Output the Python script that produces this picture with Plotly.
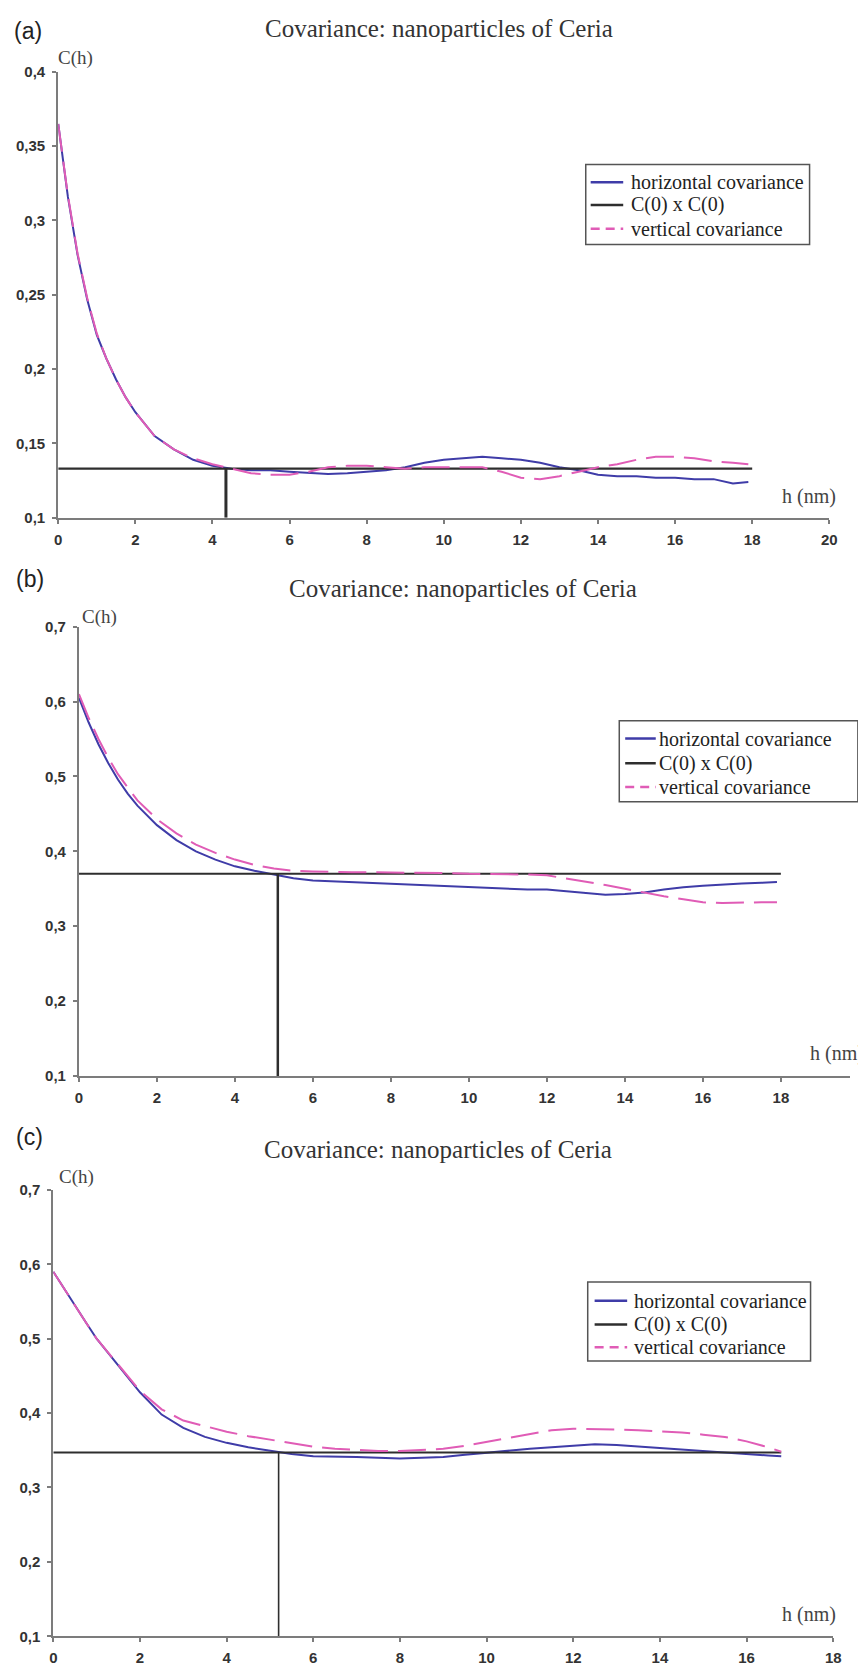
import plotly.graph_objects as go

W, H = 858, 1673

# ---------------- data ----------------
series_names = ["horizontal covariance", "C(0) x C(0)", "vertical covariance"]
panel_tags = ["(a)", "(b)", "(c)"]
panel_title = "Covariance: nanoparticles of Ceria"
y_title = "C(h)"
x_title = "h (nm)"

# panel (a)
h_a = [0, 0.25, 0.5, 0.75, 1, 1.25, 1.5, 1.75, 2, 2.5, 3, 3.5, 4, 4.5, 5, 5.5, 6, 6.5, 7, 7.5,
       8, 8.5, 9, 9.5, 10, 10.5, 11, 11.5, 12, 12.5, 13, 13.5, 14, 14.5, 15, 15.5, 16, 16.5, 17, 17.5, 17.9]
horiz_a = [0.365, 0.316, 0.277, 0.247, 0.223, 0.207, 0.193, 0.181, 0.171, 0.155, 0.146, 0.139, 0.135,
           0.133, 0.132, 0.132, 0.131, 0.130, 0.1295, 0.130, 0.131, 0.132, 0.134, 0.137, 0.139, 0.140,
           0.141, 0.140, 0.139, 0.137, 0.134, 0.132, 0.129, 0.128, 0.128, 0.127, 0.127, 0.126, 0.126,
           0.123, 0.124]
vert_a = [0.365, 0.317, 0.278, 0.248, 0.224, 0.207, 0.193, 0.181, 0.171, 0.155, 0.146, 0.140, 0.136,
          0.133, 0.130, 0.129, 0.129, 0.131, 0.134, 0.135, 0.135, 0.134, 0.133, 0.134, 0.134, 0.134,
          0.134, 0.131, 0.127, 0.126, 0.128, 0.131, 0.134, 0.136, 0.139, 0.141, 0.141, 0.140, 0.138,
          0.137, 0.136]
c0_a, hcross_a, hend_a = 0.133, 4.35, 18

# panel (b)
h_b = [0, 0.25, 0.5, 0.75, 1, 1.25, 1.5, 2, 2.5, 3, 3.5, 4, 4.5, 5, 5.5, 6, 6.5, 7, 7.5, 8,
       8.5, 9, 9.5, 10, 10.5, 11, 11.5, 12, 12.5, 13, 13.5, 14, 14.5, 15, 15.5, 16, 16.5, 17, 17.5, 17.9]
horiz_b = [0.605, 0.572, 0.543, 0.518, 0.496, 0.477, 0.461, 0.435, 0.415, 0.400, 0.389, 0.380, 0.374,
           0.369, 0.364, 0.361, 0.360, 0.359, 0.358, 0.357, 0.356, 0.355, 0.353, 0.352, 0.351, 0.350,
           0.349, 0.349, 0.347, 0.345, 0.342, 0.343, 0.345, 0.349, 0.352, 0.354, 0.356, 0.357, 0.358,
           0.359]
vert_b = [0.610, 0.578, 0.550, 0.525, 0.503, 0.485, 0.468, 0.443, 0.424, 0.409, 0.398, 0.389, 0.382,
          0.377, 0.374, 0.373, 0.372, 0.372, 0.372, 0.372, 0.372, 0.371, 0.371, 0.370, 0.370, 0.370,
          0.369, 0.368, 0.364, 0.360, 0.355, 0.350, 0.345, 0.340, 0.336, 0.332, 0.331, 0.332, 0.332,
          0.332]
c0_b, hcross_b, hend_b = 0.370, 5.1, 18

# panel (c)
h_c = [0, 0.25, 0.5, 0.75, 1, 1.25, 1.5, 2, 2.5, 3, 3.5, 4, 4.5, 5, 5.5, 6, 6.5, 7, 7.5, 8,
       8.5, 9, 9.5, 10, 10.5, 11, 11.5, 12, 12.5, 13, 13.5, 14, 14.5, 15, 15.5, 16, 16.5, 16.8]
horiz_c = [0.590, 0.567, 0.545, 0.522, 0.500, 0.482, 0.465, 0.428, 0.398, 0.380, 0.368, 0.360, 0.354,
           0.349, 0.345, 0.342, 0.341, 0.341, 0.340, 0.339, 0.340, 0.341, 0.344, 0.347, 0.350, 0.352,
           0.354, 0.356, 0.358, 0.357, 0.355, 0.352, 0.350, 0.348, 0.347, 0.345, 0.343, 0.342]
vert_c = [0.590, 0.567, 0.545, 0.522, 0.500, 0.482, 0.465, 0.430, 0.405, 0.390, 0.382, 0.375, 0.369,
          0.364, 0.359, 0.355, 0.352, 0.350, 0.349, 0.349, 0.350, 0.352, 0.356, 0.361, 0.367, 0.372,
          0.377, 0.379, 0.379, 0.378, 0.377, 0.376, 0.374, 0.371, 0.368, 0.362, 0.354, 0.348]
c0_c, hcross_c, hend_c = 0.347, 5.2, 16.8

yticks_a = [0.1, 0.15, 0.2, 0.25, 0.3, 0.35, 0.4]
yticktext_a = ["0,1", "0,15", "0,2", "0,25", "0,3", "0,35", "0,4"]
yticks_bc = [0.1, 0.2, 0.3, 0.4, 0.5, 0.6, 0.7]
yticktext_bc = ["0,1", "0,2", "0,3", "0,4", "0,5", "0,6", "0,7"]
xticks = [0, 2, 4, 6, 8, 10, 12, 14, 16, 18, 20]

# ---------------- styling / layout ----------------
BLUE = "#3f3ca8"
PINK = "#e05cb6"
BLACK = "#2e2e2e"
AXIS = "#7c7c7c"
PINK_DASH = "28px,10px"
SERIF = "Liberation Serif, Times New Roman, serif"
SANS = "Liberation Sans, Arial, sans-serif"


def px_x(v):
    return v / W


def px_y(v):
    return 1 - v / H


panels = [
    dict(h=h_a, hor=horiz_a, ver=vert_a, c0=c0_a, hx=hcross_a, he=hend_a,
         xpx=(55, 837), xr=[0, 20], ypx=(63.5, 514), yr=[0.1, 0.4],
         yt=yticks_a, ytt=yticktext_a, hw=2.2, vw=3,
         tag=(24, 22), title=(441, 20), ch=(73, 49), hnm=(816, 493), hnm_anchor="center",
         box=(590, 817, 157, 238), rows=(175, 198, 222), sample=(595, 628), textx=634),
    dict(h=h_b, hor=horiz_b, ver=vert_b, c0=c0_b, hx=hcross_b, he=hend_b,
         xpx=(76, 858), xr=[0, (858 - 76) / 39.55], ypx=(624, 1078), yr=[0.1, 0.7],
         yt=yticks_bc, ytt=yticktext_bc, hw=2, vw=2.5,
         tag=(26, 576), title=(466, 585), ch=(97, 614), hnm=(815, 1055), hnm_anchor="left",
         box=(624, 866, 719, 801), rows=(737, 762, 786), sample=(630, 661), textx=662),
    dict(h=h_c, hor=horiz_c, ver=vert_c, c0=c0_c, hx=hcross_c, he=hend_c,
         xpx=(50, 841), xr=[0, 18], ypx=(1193, 1644), yr=[0.1, 0.7],
         yt=yticks_bc, ytt=yticktext_bc, hw=2, vw=1.6,
         tag=(26, 1140), title=(440, 1152), ch=(74, 1180), hnm=(816, 1622), hnm_anchor="center",
         box=(592, 818, 1286, 1366), rows=(1305, 1329, 1352), sample=(599, 632), textx=637),
]

fig = go.Figure()
annotations = []
shapes = []
layout = dict(
    width=W, height=H, autosize=False,
    margin=dict(l=0, r=0, t=0, b=0),
    paper_bgcolor="white", plot_bgcolor="white",
    showlegend=False,
)

sample_styles = [dict(color=BLUE, width=2.5), dict(color=BLACK, width=2.5),
                 dict(color=PINK, width=2.5, dash="9px,6px")]

for i, p in enumerate(panels):
    n = "" if i == 0 else str(i + 1)
    xa, ya = "x" + n, "y" + n
    fig.add_trace(go.Scatter(x=p["h"], y=p["hor"], mode="lines", name=series_names[0],
                             line=dict(color=BLUE, width=2), xaxis=xa, yaxis=ya))
    fig.add_trace(go.Scatter(x=[0, p["he"]], y=[p["c0"], p["c0"]],
                             mode="lines", name=series_names[1],
                             line=dict(color=BLACK, width=p["hw"]), xaxis=xa, yaxis=ya))
    fig.add_trace(go.Scatter(x=[p["hx"], p["hx"]], y=[p["yr"][0], p["c0"]],
                             mode="lines", name=series_names[1],
                             line=dict(color=BLACK, width=p["vw"]), xaxis=xa, yaxis=ya))
    fig.add_trace(go.Scatter(x=p["h"], y=p["ver"], mode="lines", name=series_names[2],
                             line=dict(color=PINK, width=2, dash=PINK_DASH), xaxis=xa, yaxis=ya))

    tickfont = dict(family=SANS, size=15, color="#333333", weight="bold")
    layout["xaxis" + n] = dict(
        domain=[px_x(p["xpx"][0]), px_x(p["xpx"][1])], range=p["xr"], anchor=ya,
        showline=True, linecolor=AXIS, linewidth=2, showgrid=False, zeroline=False,
        ticks="outside", ticklen=4, tickwidth=1.5, tickcolor=AXIS,
        tickmode="array", tickvals=xticks, ticktext=[str(t) for t in xticks],
        tickfont=tickfont, ticklabelstandoff=3,
    )
    layout["yaxis" + n] = dict(
        domain=[px_y(p["ypx"][1]), px_y(p["ypx"][0])], range=p["yr"], anchor=xa,
        showline=True, linecolor=AXIS, linewidth=2, showgrid=False, zeroline=False,
        ticks="outside", ticklen=4, tickwidth=1.5, tickcolor=AXIS,
        tickmode="array", tickvals=p["yt"], ticktext=p["ytt"],
        tickfont=tickfont, ticklabelstandoff=4,
    )

    # legend box drawn by hand
    bx0, bx1, by0, by1 = p["box"]
    shapes.append(dict(type="rect", xref="paper", yref="paper",
                       x0=px_x(bx0), x1=px_x(bx1), y0=px_y(by1), y1=px_y(by0),
                       line=dict(color="#555555", width=1.5), fillcolor="white", layer="above"))
    for k in range(3):
        ry = p["rows"][k]
        shapes.append(dict(type="line", xref="paper", yref="paper",
                           x0=px_x(p["sample"][0]), x1=px_x(p["sample"][1]),
                           y0=px_y(ry), y1=px_y(ry), line=sample_styles[k], layer="above"))
        annotations.append(dict(text=series_names[k], x=px_x(p["textx"]), y=px_y(ry),
                                xref="paper", yref="paper", showarrow=False,
                                xanchor="left", yanchor="middle",
                                font=dict(family=SERIF, size=20, color="#222222")))

    annotations.append(dict(text=panel_tags[i], x=px_x(p["tag"][0]), y=px_y(p["tag"][1]),
                            xref="paper", yref="paper", showarrow=False,
                            xanchor="center", yanchor="middle",
                            font=dict(family=SANS, size=23, color="#222222")))
    annotations.append(dict(text=panel_title, x=px_x(p["title"][0]), y=px_y(p["title"][1]),
                            xref="paper", yref="paper", showarrow=False,
                            xanchor="center", yanchor="middle",
                            font=dict(family=SERIF, size=25, color="#333333")))
    annotations.append(dict(text=y_title, x=px_x(p["ch"][0]), y=px_y(p["ch"][1]),
                            xref="paper", yref="paper", showarrow=False,
                            xanchor="center", yanchor="middle",
                            font=dict(family=SERIF, size=19, color="#444444")))
    annotations.append(dict(text=x_title, x=px_x(p["hnm"][0]), y=px_y(p["hnm"][1]),
                            xref="paper", yref="paper", showarrow=False,
                            xanchor=p["hnm_anchor"], yanchor="middle",
                            font=dict(family=SERIF, size=20, color="#444444")))

layout["annotations"] = annotations
layout["shapes"] = shapes
fig.update_layout(**layout)
fig.write_html("out.html", config={"displayModeBar": False},
               post_script="document.body.style.margin='0';document.body.style.overflow='hidden';")
